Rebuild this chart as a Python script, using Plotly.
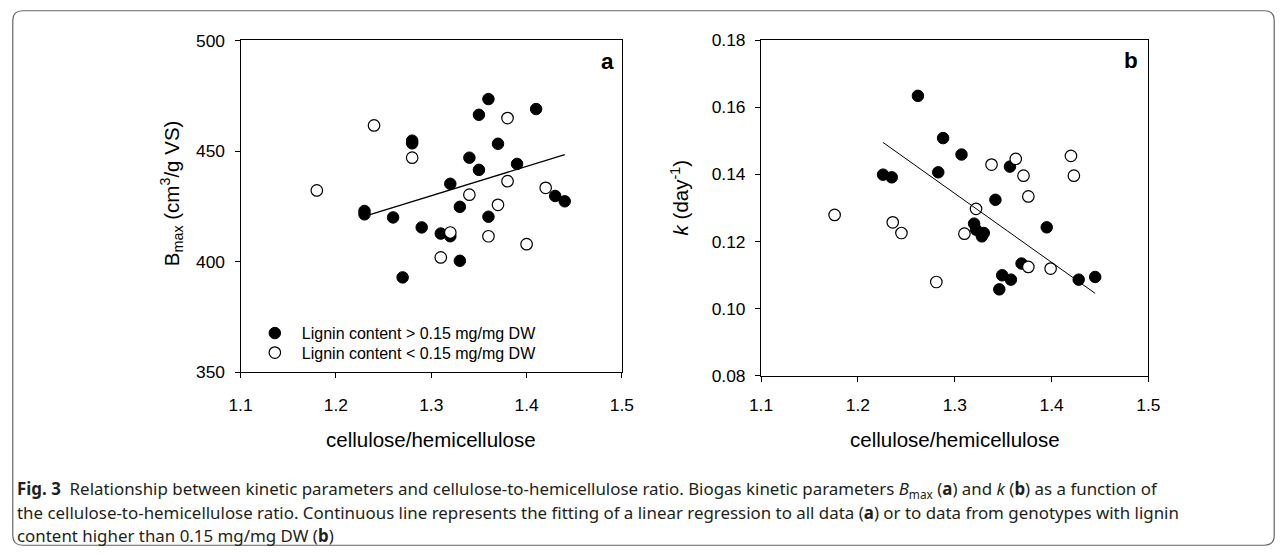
import plotly.graph_objects as go

# ---------------- data ----------------
# Panel a: Bmax vs cellulose/hemicellulose
a_high_x = [1.23, 1.23, 1.26, 1.27, 1.28, 1.28, 1.29, 1.31, 1.32, 1.32, 1.33,
            1.33, 1.34, 1.35, 1.35, 1.36, 1.36, 1.37, 1.39, 1.41, 1.43, 1.44]
a_high_y = [422.9, 421.4, 420.0, 392.9, 454.7, 453.5, 415.5, 412.7, 411.5, 435.2, 424.8,
            400.4, 447.0, 441.5, 466.4, 473.5, 420.3, 453.3, 444.2, 469.0, 429.7, 427.3]
a_low_x = [1.18, 1.24, 1.28, 1.31, 1.32, 1.34, 1.36, 1.37, 1.38, 1.38, 1.40, 1.42]
a_low_y = [432.2, 461.6, 447.0, 401.9, 413.2, 430.3, 411.5, 425.7, 464.9, 436.4, 407.9, 433.4]
a_fit_x = [1.234, 1.44]
a_fit_y = [421.0, 448.4]

# Panel b: k vs cellulose/hemicellulose
b_high_x = [1.226, 1.235, 1.262, 1.283, 1.288, 1.307, 1.320, 1.322, 1.328, 1.330,
            1.342, 1.346, 1.349, 1.357, 1.358, 1.369, 1.395, 1.428, 1.445]
b_high_y = [0.1399, 0.1391, 0.1634, 0.1406, 0.1508, 0.1459, 0.1253, 0.1235, 0.1215, 0.1225,
            0.1324, 0.1057, 0.1099, 0.1423, 0.1086, 0.1134, 0.1242, 0.1086, 0.1094]
b_low_x = [1.176, 1.236, 1.245, 1.281, 1.310, 1.322, 1.338, 1.363, 1.371, 1.376,
           1.376, 1.399, 1.420, 1.423]
b_low_y = [0.1279, 0.1257, 0.1225, 0.1079, 0.1223, 0.1297, 0.1429, 0.1446, 0.1396, 0.1334,
           0.1124, 0.1119, 0.1455, 0.1396]
b_fit_x = [1.226, 1.445]
b_fit_y = [0.1495, 0.1045]

x_ticks = [1.1, 1.2, 1.3, 1.4, 1.5]
x_tick_text = ["1.1", "1.2", "1.3", "1.4", "1.5"]
a_y_ticks = [350, 400, 450, 500]
a_y_tick_text = ["350", "400", "450", "500"]
b_y_ticks = [0.08, 0.10, 0.12, 0.14, 0.16, 0.18]
b_y_tick_text = ["0.08", "0.10", "0.12", "0.14", "0.16", "0.18"]

legend_names = ["Lignin content &gt; 0.15 mg/mg DW", "Lignin content &lt; 0.15 mg/mg DW"]

caption_lines = [
    "<b>Fig. 3</b>  Relationship between kinetic parameters and cellulose-to-hemicellulose ratio. "
    "Biogas kinetic parameters <i>B</i><sub>max</sub> (<b>a</b>) and <i>k</i> (<b>b</b>) as a function of",
    "the cellulose-to-hemicellulose ratio. Continuous line represents the fitting of a linear regression "
    "to all data (<b>a</b>) or to data from genotypes with lignin",
    "content higher than 0.15 mg/mg DW (<b>b</b>)",
]

# ---------------- layout helpers ----------------
W, H = 1287, 556
# the photographed page shows a thin border around the viewport; positions below are
# given in picture pixels and mapped back into page pixels
SX, OX = 0.981, 12.26
SY, OY = 0.9686, 8.7


def gx(x):
    return (x - OX) / SX


def gy(y):
    return (y - OY) / SY


def px(x):
    return gx(x) / W


def py(y):
    return 1 - gy(y) / H


AX_FONT = "Liberation Sans, Arial, sans-serif"
CAP_FONT = "Noto Sans, Open Sans, sans-serif"

fig = go.Figure()

filled = dict(symbol="circle", size=11.5, color="black", line=dict(color="black", width=1))
hollow = dict(symbol="circle", size=11.5, color="white", line=dict(color="black", width=1.2))

# panel a
fig.add_trace(go.Scatter(x=a_high_x, y=a_high_y, mode="markers", marker=filled,
                         name=legend_names[0], xaxis="x", yaxis="y", showlegend=True,
                         legend="legend"))
fig.add_trace(go.Scatter(x=a_low_x, y=a_low_y, mode="markers", marker=hollow,
                         name=legend_names[1], xaxis="x", yaxis="y", showlegend=True,
                         legend="legend2"))
fig.add_trace(go.Scatter(x=a_fit_x, y=a_fit_y, mode="lines", line=dict(color="black", width=1.3),
                         xaxis="x", yaxis="y", showlegend=False))
# panel b
fig.add_trace(go.Scatter(x=b_high_x, y=b_high_y, mode="markers", marker=filled,
                         xaxis="x2", yaxis="y2", showlegend=False))
fig.add_trace(go.Scatter(x=b_low_x, y=b_low_y, mode="markers", marker=hollow,
                         xaxis="x2", yaxis="y2", showlegend=False))
fig.add_trace(go.Scatter(x=b_fit_x, y=b_fit_y, mode="lines", line=dict(color="black", width=1),
                         xaxis="x2", yaxis="y2", showlegend=False))

axis_common = dict(showline=True, linecolor="black", linewidth=1, mirror=True,
                   ticks="outside", ticklen=5, tickcolor="black", tickwidth=1,
                   showgrid=False, zeroline=False,
                   tickfont=dict(family=AX_FONT, size=17.4, color="black"))

legend_common = dict(xanchor="left", yanchor="top", bgcolor="rgba(0,0,0,0)", borderwidth=0,
                     font=dict(family=AX_FONT, size=16, color="black"), itemwidth=44)

fig.update_layout(
    width=W, height=H, autosize=False,
    margin=dict(l=0, r=0, t=0, b=0),
    paper_bgcolor="white", plot_bgcolor="white",
    xaxis=dict(domain=[px(240.7), px(622)], range=[1.1, 1.5], tickvals=x_ticks,
               ticktext=x_tick_text, anchor="y", ticklabelstandoff=12, **axis_common),
    yaxis=dict(domain=[py(372.7), py(39.3)], range=[350, 500], tickvals=a_y_ticks,
               ticktext=a_y_tick_text, anchor="x", ticklabelstandoff=6, **axis_common),
    xaxis2=dict(domain=[px(761), px(1148.3)], range=[1.1, 1.5], tickvals=x_ticks,
                ticktext=x_tick_text, anchor="y2", ticklabelstandoff=9, **axis_common),
    yaxis2=dict(domain=[py(376), py(39)], range=[0.08, 0.18], tickvals=b_y_ticks,
                ticktext=b_y_tick_text, anchor="x2", ticklabelstandoff=6, **axis_common),
    showlegend=True,
    legend=dict(x=px(248), y=py(316.3), **legend_common),
    legend2=dict(x=px(248), y=py(335.9), **legend_common),
)

annotations = []
# panel letters
annotations.append(dict(x=px(608), y=py(60), xref="paper", yref="paper", text="<b>a</b>",
                        showarrow=False, font=dict(family=AX_FONT, size=22.5, color="black"),
                        xanchor="center", yanchor="middle"))
annotations.append(dict(x=px(1131), y=py(59), xref="paper", yref="paper", text="<b>b</b>",
                        showarrow=False, font=dict(family=AX_FONT, size=22.5, color="black"),
                        xanchor="center", yanchor="middle"))
# y titles
annotations.append(dict(x=px(172), y=py(193), xref="paper", yref="paper",
                        text="B<sub>max</sub> (cm<sup>3</sup>/g VS)", textangle=-90,
                        showarrow=False, font=dict(family=AX_FONT, size=20.5, color="black"),
                        xanchor="center", yanchor="middle"))
annotations.append(dict(x=px(680), y=py(197), xref="paper", yref="paper",
                        text="<i>k</i> (day<sup>-1</sup>)", textangle=-90,
                        showarrow=False, font=dict(family=AX_FONT, size=20.5, color="black"),
                        xanchor="center", yanchor="middle"))
# x titles
for cx in (431, 955):
    annotations.append(dict(x=px(cx), y=py(440), xref="paper", yref="paper",
                            text="cellulose/hemicellulose", showarrow=False,
                            font=dict(family=AX_FONT, size=20.5, color="black"),
                            xanchor="center", yanchor="middle"))
# caption
for i, line in enumerate(caption_lines):
    annotations.append(dict(x=3 / W, y=py(490 + 23.5 * i), xref="paper", yref="paper",
                            text=line, showarrow=False, align="left",
                            font=dict(family=CAP_FONT, size=16.9, color="#231f20"),
                            xanchor="left", yanchor="middle"))
fig.update_layout(annotations=annotations)

# rounded outer frame (at the page edges)
x0, y0, x1, y1, r = 0.8, 0.8, W - 0.8, H - 0.8, 10
path = (f"M {(x0 + r) / W},{1 - y0 / H} L {(x1 - r) / W},{1 - y0 / H} "
        f"Q {x1 / W},{1 - y0 / H} {x1 / W},{1 - (y0 + r) / H} "
        f"L {x1 / W},{1 - (y1 - r) / H} Q {x1 / W},{1 - y1 / H} {(x1 - r) / W},{1 - y1 / H} "
        f"L {(x0 + r) / W},{1 - y1 / H} Q {x0 / W},{1 - y1 / H} {x0 / W},{1 - (y1 - r) / H} "
        f"L {x0 / W},{1 - (y0 + r) / H} Q {x0 / W},{1 - y0 / H} {(x0 + r) / W},{1 - y0 / H} Z")
fig.add_shape(type="path", path=path, xref="paper", yref="paper",
              line=dict(color="#666", width=1.2), fillcolor="rgba(0,0,0,0)")

fig.write_html(
    "out.html",
    config={"displayModeBar": False},
    post_script="document.body.style.margin='0';document.body.style.padding='0';"
                "document.documentElement.style.margin='0';"
                "document.documentElement.style.overflow='hidden';",
)
